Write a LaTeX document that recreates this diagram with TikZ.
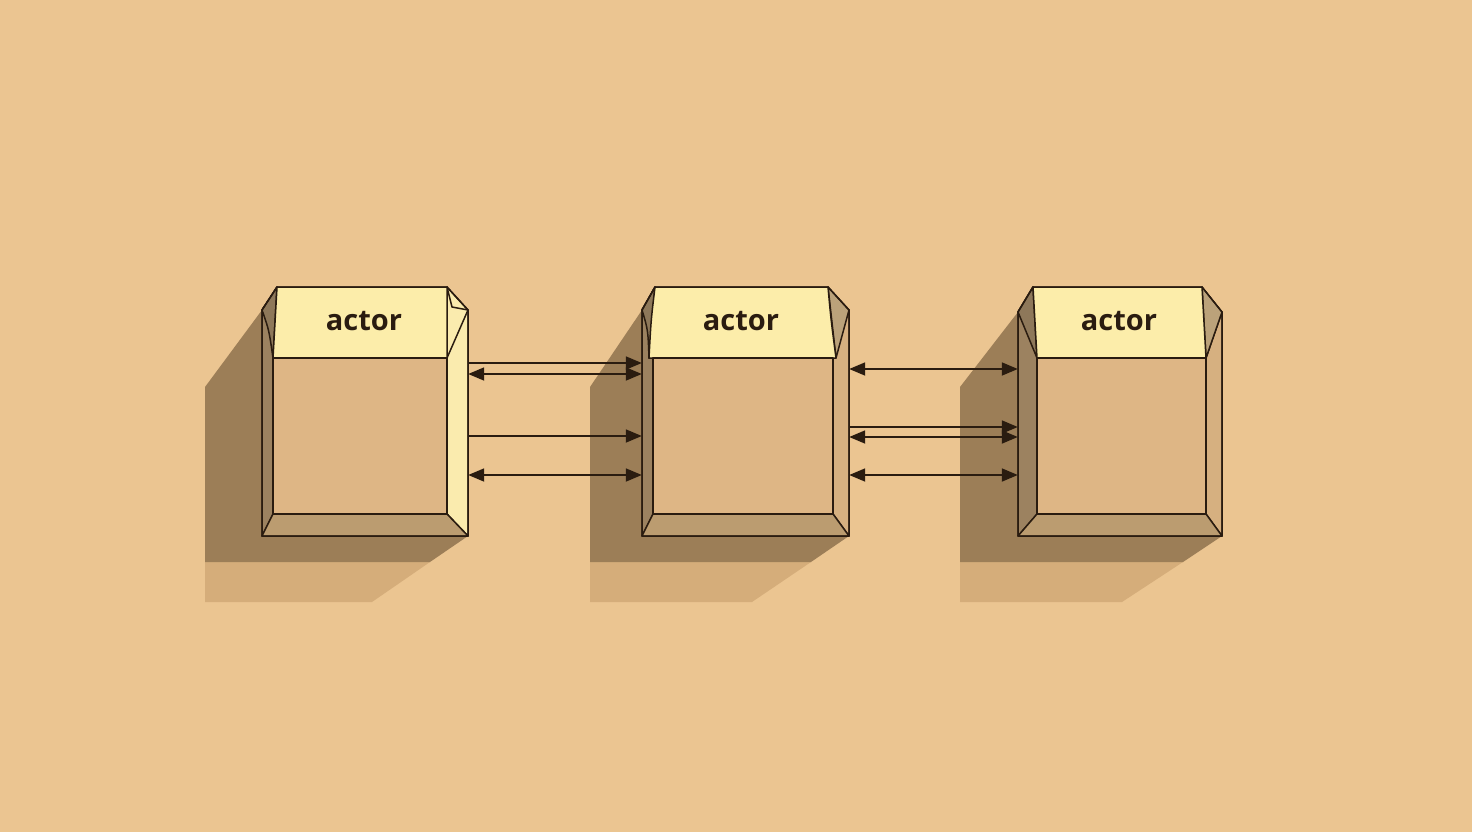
\documentclass[tikz,border=0pt]{standalone}
\usepackage{fontspec}
\setmainfont{Open Sans}
\usetikzlibrary{arrows.meta}
\definecolor{bg}{HTML}{EBC591}
\definecolor{shD}{HTML}{9C7E57}
\definecolor{shL}{HTML}{D5AD7A}
\definecolor{front}{HTML}{DEB685}
\definecolor{labelC}{HTML}{FCEDAA}
\definecolor{sideL}{HTML}{FAEBAE}
\definecolor{stripD}{HTML}{9C8260}
\definecolor{stripD2}{HTML}{8E785A}
\definecolor{bevelT}{HTML}{BBA27A}
\definecolor{bottomB}{HTML}{BB9C70}
\definecolor{stripR}{HTML}{D6B080}
\definecolor{ink}{HTML}{2A1C10}
\tikzset{
  edge/.style={draw=ink, line width=1.5pt, line join=round},
  conn/.style={draw=ink, line width=1.8pt, -{Triangle[length=16pt,width=13pt]}},
  connb/.style={draw=ink, line width=1.8pt, {Triangle[length=16pt,width=13pt]}-{Triangle[length=16pt,width=13pt]}},
  boxnode/.style={rectangle, inner sep=0pt, minimum width=#1, minimum height=249pt},
  lbl/.style={font=\fontsize{29}{32}\selectfont\bfseries, text=ink}
}
\begin{document}
\begin{tikzpicture}[x=1pt,y=-1pt]
\path[use as bounding box, fill=bg] (0,0) rectangle (1472,832);

% ---------- shadows ----------
\fill[shL] (205,562) -- (430,562) -- (372,602) -- (205,602) -- cycle;
\fill[shD] (262,310) -- (205,387) -- (205,562) -- (430,562) -- (468,536) -- (262,536) -- cycle;
\fill[shL] (590,562) -- (811,562) -- (752,602) -- (590,602) -- cycle;
\fill[shD] (642,310) -- (590,387) -- (590,562) -- (811,562) -- (849,536) -- (642,536) -- cycle;
\fill[shL] (960,562) -- (1183,562) -- (1122,602) -- (960,602) -- cycle;
\fill[shD] (1018,312) -- (960,387) -- (960,562) -- (1183,562) -- (1222,536) -- (1018,536) -- cycle;

% ---------- box 1 ----------
\node[boxnode=206pt] (b1) at (365,411.5) {};
\fill[front] (273,358) rectangle (447,514);
\filldraw[fill=stripD, edge] (262,310) -- (277,287) -- (273,358) -- (273,514) -- (262,536) -- cycle;
\filldraw[fill=stripD2, edge] (277,287) -- (273,358) .. controls (269,330) .. (262,310) -- cycle;
\filldraw[fill=sideL, edge] (447,287) -- (468,310) -- (468,536) -- (447,514) -- cycle;
\draw[edge] (468,310) -- (447,358);
\draw[edge] (447,287) -- (452,307) -- (468,310);
\filldraw[fill=labelC, edge] (277,287) -- (447,287) -- (447,358) -- (273,358) -- cycle;
\filldraw[fill=bottomB, edge] (273,514) -- (447,514) -- (468,536) -- (262,536) -- cycle;
\draw[edge] (273,358) rectangle (447,514);
\draw[edge] (277,287) -- (447,287) -- (468,310) -- (468,536) -- (262,536) -- (262,310) -- cycle;
\node[lbl] (t1) at (364,321) {actor};

% ---------- box 2 ----------
\node[boxnode=207pt] (b2) at (745.5,411.5) {};
\fill[front] (653,358) rectangle (833,514);
\filldraw[fill=stripD, edge] (642,310) -- (655,287) -- (649,358) -- (653,358) -- (653,514) -- (642,536) -- cycle;
\filldraw[fill=stripD2, edge] (655,287) -- (649,358) .. controls (648,330) .. (642,310) -- cycle;
\filldraw[fill=stripR, edge] (833,358) -- (849,310) -- (849,536) -- (833,514) -- cycle;
\filldraw[fill=bevelT, edge] (828,287) -- (849,310) -- (836,358) -- cycle;
\filldraw[fill=labelC, edge] (655,287) -- (828,287) .. controls (831,320) .. (836,358) -- (649,358) .. controls (651,320) .. (655,287) -- cycle;
\filldraw[fill=bottomB, edge] (653,514) -- (833,514) -- (849,536) -- (642,536) -- cycle;
\draw[edge] (653,358) rectangle (833,514);
\draw[edge] (655,287) -- (828,287) -- (849,310) -- (849,536) -- (642,536) -- (642,310) -- cycle;
\node[lbl] (t2) at (741,321) {actor};

% ---------- box 3 ----------
\node[boxnode=204pt] (b3) at (1120,411.5) {};
\fill[front] (1037,358) rectangle (1206,514);
\filldraw[fill=stripD, edge] (1018,312) -- (1033,287) -- (1037,358) -- (1037,514) -- (1018,536) -- cycle;
\filldraw[fill=stripD2, edge] (1018,312) -- (1033,287) -- (1037,358) -- cycle;
\filldraw[fill=stripR, edge] (1206,358) -- (1222,312) -- (1222,536) -- (1206,514) -- cycle;
\filldraw[fill=bevelT, edge] (1202,287) -- (1222,312) -- (1206,358) -- cycle;
\filldraw[fill=labelC, edge] (1033,287) -- (1202,287) -- (1206,358) -- (1037,358) -- cycle;
\filldraw[fill=bottomB, edge] (1037,514) -- (1206,514) -- (1222,536) -- (1018,536) -- cycle;
\draw[edge] (1037,358) rectangle (1206,514);
\draw[edge] (1033,287) -- (1202,287) -- (1222,312) -- (1222,536) -- (1018,536) -- (1018,312) -- cycle;
\node[lbl] (t3) at (1119,321) {actor};

% ---------- connectors ----------
\draw[conn]  (b1.east |- 0,363) -- (b2.west |- 0,363);
\draw[connb] (b1.east |- 0,374) -- (b2.west |- 0,374);
\draw[conn]  (b1.east |- 0,436) -- (b2.west |- 0,436);
\draw[connb] (b1.east |- 0,475) -- (b2.west |- 0,475);

\draw[connb] (b2.east |- 0,369) -- (b3.west |- 0,369);
\draw[conn]  (b2.east |- 0,427) -- (b3.west |- 0,427);
\draw[connb] (b2.east |- 0,437) -- (b3.west |- 0,437);
\draw[connb] (b2.east |- 0,475) -- (b3.west |- 0,475);
\end{tikzpicture}
\end{document}
